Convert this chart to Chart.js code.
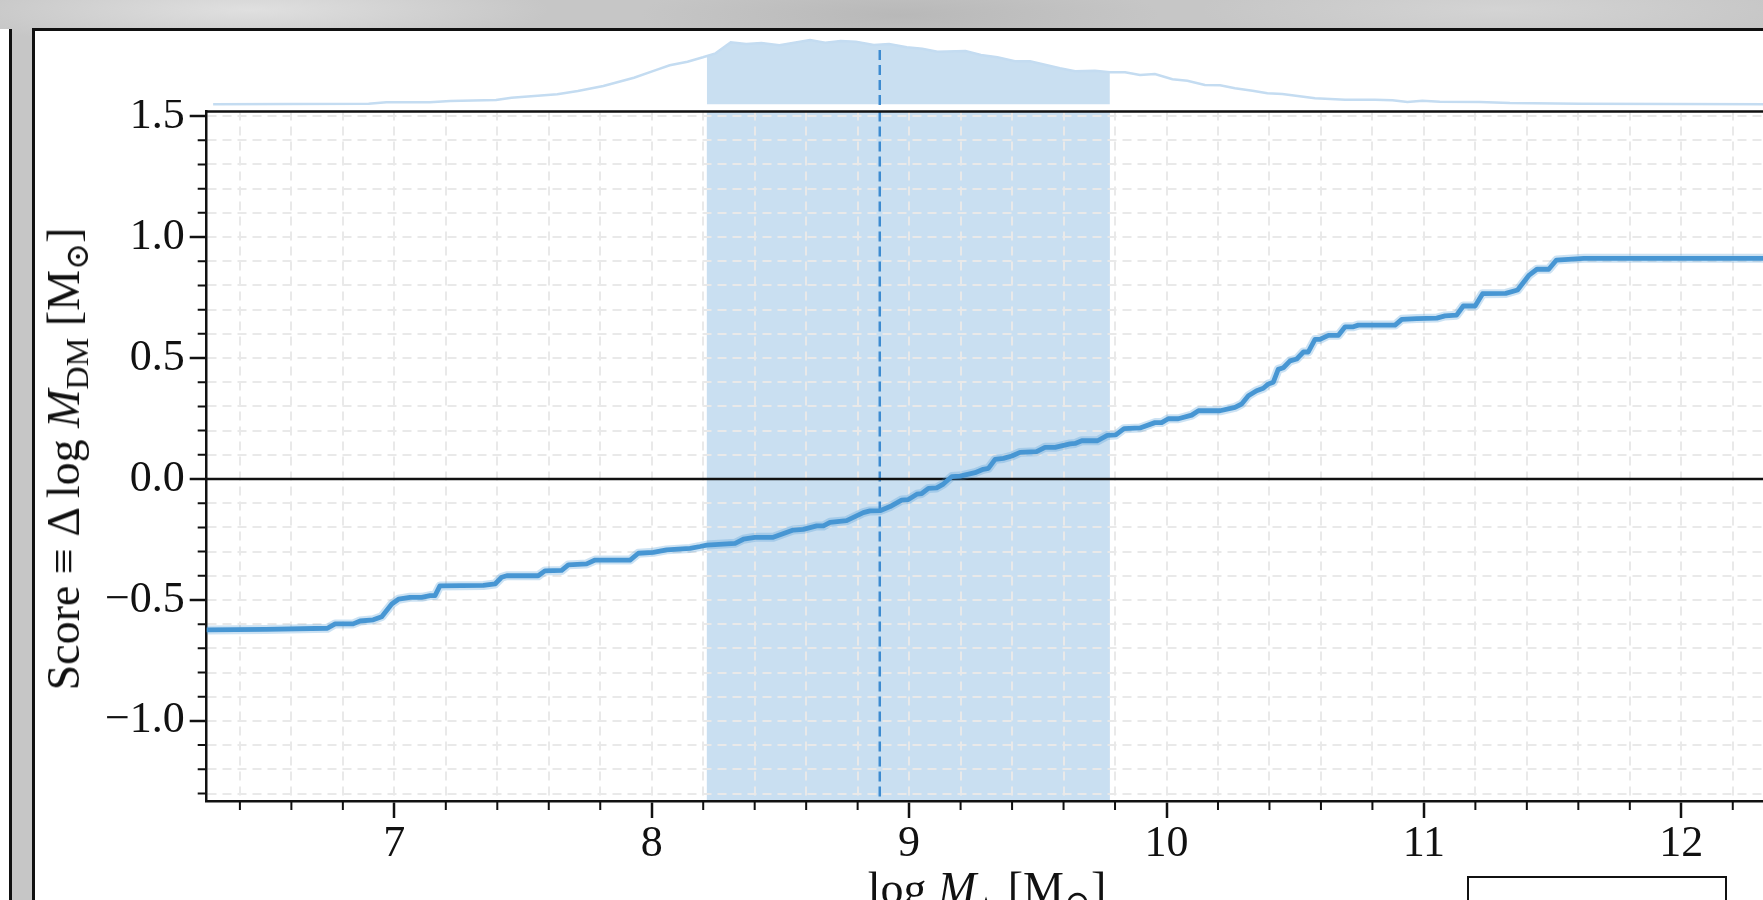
<!DOCTYPE html>
<html>
<head>
<meta charset="utf-8">
<script src="https://cdn.jsdelivr.net/npm/chart.js@4.4.1/dist/chart.umd.min.js"></script>
<style>
  html, body { margin: 0; padding: 0; }
  body {
    width: 1763px; height: 900px; overflow: hidden; position: relative;
    background:
      radial-gradient(ellipse 300px 40px at 250px 10px, rgba(230,230,230,0.8), rgba(230,230,230,0) 100%),
      radial-gradient(ellipse 260px 40px at 900px 15px, rgba(175,175,175,0.6), rgba(175,175,175,0) 100%),
      radial-gradient(ellipse 300px 40px at 1500px 10px, rgba(215,215,215,0.8), rgba(215,215,215,0) 100%),
      #c6c6c6;
  }
  #sideCard { position: absolute; left: -20px; top: 29px; width: 29px; height: 900px; background: #fff; border-right: 3px solid #111; }
  #card { position: absolute; left: 32px; top: 28px; width: 1800px; height: 1000px; background: #fff; border-left: 3px solid #111; border-top: 3px solid #111; }
  #kdeCanvas { position: absolute; left: 35px; top: 33px; }
  #mainCanvas { position: absolute; left: 35px; top: 100px; }
  .axisTitle { position: absolute; font-family: 'Liberation Serif', 'DejaVu Serif', serif; font-size: 46px; color: #111; white-space: nowrap; line-height: 1; }
  .axisTitle sub { font-size: 70%; vertical-align: -0.28em; line-height: 0; }
  #yTitle { left: 64px; top: 459px; transform: translate(-50%, -50%) rotate(-90deg); }
  #xTitle { left: 987px; top: 866px; transform: translateX(-50%); }
  #legendBox { position: absolute; left: 1467px; top: 876px; width: 256px; height: 80px; border: 2px solid #111; background: #fff; }
</style>
</head>
<body>
<div id="sideCard"></div>
<div id="card"></div>
<canvas id="kdeCanvas" width="1732" height="77"></canvas>
<canvas id="mainCanvas" width="1732" height="800"></canvas>
<div id="yTitle" class="axisTitle">Score ≡ Δ log <i>M</i><sub>DM</sub> [M<sub>⊙</sub>]</div>
<div id="xTitle" class="axisTitle">log <i>M</i><sub>⋆</sub> [M<sub>⊙</sub>]</div>
<div id="legendBox"></div>
<script>
// score curve (stepwise cumulative offset)
const scoreX = [6.27, 6.50, 6.74, 6.77, 6.84, 6.867, 6.918, 6.951, 6.99, 7.016, 7.061, 7.106, 7.139, 7.158, 7.177,
  7.346, 7.391, 7.417, 7.437, 7.559, 7.585, 7.650, 7.676, 7.747, 7.780, 7.916, 7.948, 8.006, 8.058, 8.149,
  8.188, 8.214, 8.324, 8.356, 8.401, 8.472, 8.550, 8.589, 8.641, 8.667, 8.693, 8.757, 8.822, 8.848, 8.887,
  8.926, 8.971, 8.997, 9.030, 9.049, 9.075, 9.107, 9.133, 9.166, 9.198, 9.256, 9.288, 9.308, 9.334, 9.366,
  9.399, 9.431, 9.495, 9.528, 9.567, 9.625, 9.645, 9.671, 9.732, 9.770, 9.803, 9.835, 9.897, 9.955, 9.981,
  10.007, 10.046, 10.098, 10.124, 10.208, 10.266, 10.292, 10.318, 10.350, 10.376, 10.396, 10.415, 10.434, 10.454, 10.480,
  10.506, 10.532, 10.551, 10.577, 10.596, 10.629, 10.668, 10.694, 10.726, 10.745, 10.888, 10.914, 10.972, 11.050, 11.082,
  11.127, 11.153, 11.199, 11.228, 11.318, 11.364, 11.409, 11.439, 11.485, 11.515, 11.622, 12.0, 12.333];
const scoreY = [-0.624, -0.622, -0.617, -0.599, -0.599, -0.587, -0.582, -0.569, -0.517, -0.497, -0.489, -0.489, -0.482, -0.482, -0.442,
  -0.440, -0.434, -0.406, -0.400, -0.400, -0.380, -0.378, -0.355, -0.351, -0.335, -0.335, -0.307, -0.303, -0.293, -0.287,
  -0.279, -0.273, -0.266, -0.249, -0.241, -0.241, -0.211, -0.208, -0.194, -0.194, -0.179, -0.172, -0.139, -0.132, -0.131,
  -0.114, -0.087, -0.085, -0.063, -0.060, -0.039, -0.037, -0.021, 0.010, 0.012, 0.026, 0.040, 0.044, 0.081, 0.085,
  0.095, 0.110, 0.113, 0.131, 0.131, 0.145, 0.147, 0.158, 0.158, 0.180, 0.182, 0.208, 0.211, 0.233, 0.233,
  0.249, 0.249, 0.264, 0.282, 0.282, 0.296, 0.310, 0.344, 0.365, 0.375, 0.393, 0.400, 0.453, 0.460, 0.488,
  0.496, 0.525, 0.525, 0.577, 0.577, 0.594, 0.594, 0.629, 0.629, 0.636, 0.636, 0.660, 0.663, 0.665, 0.674,
  0.677, 0.715, 0.715, 0.766, 0.767, 0.781, 0.843, 0.867, 0.867, 0.905, 0.912, 0.912, 0.912];

// marginal density of log M* (normalised to peak = 1)
const kdeX = [6.296, 6.900, 6.969, 7.138, 7.217, 7.395, 7.455, 7.633, 7.713, 7.812, 7.931, 8.010, 8.070, 8.139, 8.199,
  8.248, 8.307, 8.367, 8.426, 8.496, 8.615, 8.674, 8.734, 8.793, 8.863, 8.922, 8.991, 9.051, 9.110, 9.219,
  9.279, 9.343, 9.411, 9.470, 9.586, 9.645, 9.722, 9.780, 9.839, 9.897, 9.955, 10.023, 10.081, 10.149, 10.208,
  10.266, 10.334, 10.392, 10.450, 10.577, 10.694, 10.810, 10.878, 10.936, 10.994, 11.062, 11.217, 11.334, 11.606, 12.333];
const kdeY = [0.0, 0.009, 0.031, 0.031, 0.051, 0.067, 0.103, 0.156, 0.207, 0.285, 0.414, 0.523, 0.607, 0.663, 0.731,
  0.793, 0.964, 0.938, 0.953, 0.918, 1.0, 0.958, 0.984, 0.974, 0.922, 0.938, 0.886, 0.865, 0.818, 0.829,
  0.767, 0.731, 0.669, 0.669, 0.560, 0.513, 0.523, 0.498, 0.498, 0.456, 0.471, 0.389, 0.367, 0.300, 0.295,
  0.249, 0.212, 0.171, 0.160, 0.093, 0.072, 0.072, 0.062, 0.036, 0.056, 0.040, 0.036, 0.020, 0.009, 0.0];

// 68% interval and median of log M*
const credLow = 8.214, credHigh = 9.78;
const kdeAtLow = 0.745, kdeAtHigh = 0.498;
const medianX = 8.886;
const medianTopKde = 0.845;

// tick labels
const xMajor = [7, 8, 9, 10, 11, 12];
const xMajorLabels = ['7', '8', '9', '10', '11', '12'];
const yMajor = [-1.0, -0.5, 0.0, 0.5, 1.0, 1.5];
const yMajorLabels = ['\u22121.0', '\u22120.5', '0.0', '0.5', '1.0', '1.5'];

const X_MIN = 6.271, X_MAX = 12.333;
const Y_MIN = -1.331, Y_MAX = 1.519;
const KDE_Y_MIN = -0.0886, KDE_Y_MAX = 1.109;

const INK = '#111111';
const GRID = '#e9e9e9';
const SHADE = 'rgb(201,223,241)';
const KDE_LINE = 'rgb(196,220,241)';
const LINE = '#4796d3';
const HALO = 'rgba(71,150,211,0.28)';
const MEDIAN = '#3d8bd0';
const FONT = "'Liberation Serif', 'DejaVu Serif', serif";

const near = (a, b) => Math.abs(a - b) < 1e-6;
const labelFor = (v, vals, labels) => {
  const i = vals.findIndex(m => near(m, v));
  return i >= 0 ? labels[i] : '';
};
const isMajor = (v, vals) => vals.some(m => near(m, v));

const scorePts = scoreX.map((x, i) => ({ x, y: scoreY[i] }));
const kdePts = kdeX.map((x, i) => ({ x, y: kdeY[i] }));
const shadePts = [{ x: credLow, y: kdeAtLow }]
  .concat(kdePts.filter(p => p.x > credLow && p.x < credHigh))
  .concat([{ x: credHigh, y: kdeAtHigh }]);

// ---------- top panel: density ----------
new Chart(document.getElementById('kdeCanvas'), {
  type: 'line',
  data: {
    datasets: [
      { data: [{ x: medianX, y: medianTopKde }, { x: medianX, y: KDE_Y_MIN }], borderColor: MEDIAN, borderWidth: 2.5,
        borderDash: [10, 5], pointRadius: 0, fill: false, order: 0 },
      { data: kdePts, borderColor: KDE_LINE, borderWidth: 2.5, pointRadius: 0, fill: false, tension: 0, order: 1 },
      { data: shadePts, borderColor: SHADE, backgroundColor: SHADE, borderWidth: 1, pointRadius: 0, fill: 'origin', tension: 0, order: 2 },
    ],
  },
  options: {
    responsive: false,
    animation: false,
    layout: { padding: { left: 171.7, right: 0, top: 0, bottom: 0 } },
    plugins: { legend: { display: false }, tooltip: { enabled: false } },
    scales: {
      x: { type: 'linear', min: X_MIN, max: X_MAX, display: false },
      y: { min: KDE_Y_MIN, max: KDE_Y_MAX, display: false },
    },
  },
});

// ---------- main panel ----------
const bandPlugin = {
  id: 'credBand',
  beforeDraw(chart) {
    const { ctx, chartArea: a, scales: { x } } = chart;
    const x0 = x.getPixelForValue(credLow);
    const x1 = x.getPixelForValue(credHigh);
    ctx.save();
    ctx.fillStyle = SHADE;
    ctx.fillRect(x0, a.top, x1 - x0, a.bottom - a.top);
    ctx.restore();
  },
};

const framePlugin = {
  id: 'frame',
  afterDraw(chart) {
    const { ctx, chartArea: a, scales: { x, y } } = chart;
    ctx.save();
    ctx.strokeStyle = INK;
    ctx.lineWidth = 2.5;
    ctx.beginPath();
    ctx.moveTo(a.left - 1.25, a.top);
    ctx.lineTo(a.right, a.top);
    ctx.stroke();
    // minor ticks
    ctx.lineWidth = 2;
    ctx.beginPath();
    x.ticks.forEach(t => {
      if (isMajor(t.value, xMajor)) return;
      const px = x.getPixelForValue(t.value);
      ctx.moveTo(px, a.bottom);
      ctx.lineTo(px, a.bottom + 9);
    });
    y.ticks.forEach(t => {
      if (isMajor(t.value, yMajor)) return;
      const py = y.getPixelForValue(t.value);
      ctx.moveTo(a.left, py);
      ctx.lineTo(a.left - 9, py);
    });
    ctx.stroke();
    ctx.restore();
  },
};

new Chart(document.getElementById('mainCanvas'), {
  type: 'line',
  data: {
    datasets: [
      { data: scorePts, borderColor: LINE, borderWidth: 4.8, pointRadius: 0, fill: false, tension: 0,
        borderJoinStyle: 'round', borderCapStyle: 'round', order: 0 },
      { data: scorePts, borderColor: HALO, borderWidth: 9, pointRadius: 0, fill: false, tension: 0,
        borderJoinStyle: 'round', order: 1 },
      { data: [{ x: X_MIN, y: 0 }, { x: X_MAX, y: 0 }], borderColor: INK, borderWidth: 2.6, pointRadius: 0, fill: false, order: 2 },
      { data: [{ x: medianX, y: Y_MAX }, { x: medianX, y: Y_MIN }], borderColor: MEDIAN, borderWidth: 2.5,
        borderDash: [10, 5], pointRadius: 0, fill: false, order: 3 },
    ],
  },
  options: {
    responsive: false,
    animation: false,
    layout: { padding: { left: 0, right: 0, top: 11.5, bottom: 0 } },
    plugins: { legend: { display: false }, tooltip: { enabled: false } },
    scales: {
      x: {
        type: 'linear',
        min: X_MIN,
        max: X_MAX,
        afterFit: s => { s.height = 99; },
        border: { display: true, color: INK, width: 2.5, dash: [9, 6] },
        grid: {
          color: GRID, lineWidth: 2, tickLength: 17, tickWidth: 2.5, tickBorderDash: [],
          tickColor: c => (c.tick && isMajor(c.tick.value, xMajor) ? INK : 'rgba(0,0,0,0)'),
        },
        ticks: {
          stepSize: 0.2, autoSkip: false, includeBounds: false, maxRotation: 0, padding: 0,
          color: INK, font: { family: FONT, size: 44 },
          callback: v => labelFor(v, xMajor, xMajorLabels),
        },
      },
      y: {
        min: Y_MIN,
        max: Y_MAX,
        afterFit: s => { s.width = 171.7; },
        border: { display: true, color: INK, width: 2.5, dash: [9, 6] },
        grid: {
          color: GRID, lineWidth: 2, tickLength: 17, tickWidth: 2.5, tickBorderDash: [],
          tickColor: c => (c.tick && isMajor(c.tick.value, yMajor) ? INK : 'rgba(0,0,0,0)'),
        },
        ticks: {
          stepSize: 0.1, autoSkip: false, includeBounds: false, padding: 5,
          color: INK, font: { family: FONT, size: 44, lineHeight: 0.2 },
          callback: v => labelFor(v, yMajor, yMajorLabels),
        },
      },
    },
  },
  plugins: [bandPlugin, framePlugin],
});
</script>
</body>
</html>
